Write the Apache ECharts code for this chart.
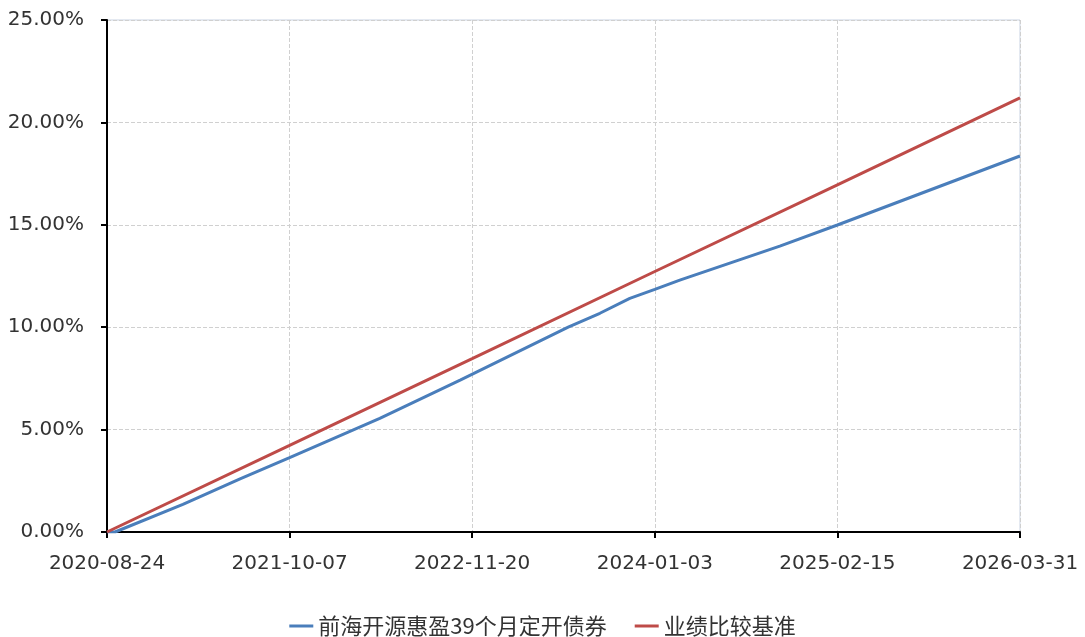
<!DOCTYPE html>
<html><head><meta charset="utf-8">
<script src="https://cdn.jsdelivr.net/npm/echarts@6/dist/echarts.min.js"></script>
<style>html,body{margin:0;padding:0;background:#fff}#c{width:1085px;height:637px}</style>
</head><body><div id="c"></div>
<script>
const startDate = '2020-08-24';
const endDate = '2026-03-31';
const tickLabels = ['2020-08-24','2021-10-07','2022-11-20','2024-01-03','2025-02-15','2026-03-31'];
const seriesNames = ['前海开源惠盈39个月定开债券','业绩比较基准'];
const fundDates = ['2020-08-24','2020-09-11','2021-02-10','2021-06-18','2021-10-07','2022-04-27','2022-10-24','2023-06-23','2023-09-02','2023-11-08','2024-01-03','2024-02-28','2024-10-09','2025-02-15','2026-03-31'];
const fundValues = [0, 0.0, 1.35, 2.59, 3.63, 5.55, 7.42, 10.0, 10.68, 11.41, 11.85, 12.3, 13.96, 14.99, 18.36];
const benchDates = ['2020-08-24','2021-10-07','2022-11-20','2024-01-03','2025-02-15','2026-03-31'];
const benchValues = [0, 4.23, 8.47, 12.72, 16.95, 21.2];

const DAY = 86400000;
const t0 = Date.parse(startDate + 'T00:00:00Z');
const toDay = d => Math.round((Date.parse(d + 'T00:00:00Z') - t0) / DAY);
const toDate = n => new Date(t0 + n * DAY).toISOString().slice(0, 10);
const span = toDay(endDate);
const step = toDay(tickLabels[1]);

const chart = echarts.init(document.getElementById('c'));
const cjk = '"Noto Sans CJK SC", "Noto Sans", sans-serif';
const lat = '"DejaVu Sans", sans-serif';
chart.setOption({
  animation: false,
  textStyle: { fontFamily: cjk },
  grid: { left: 107, right: 65, top: 20, bottom: 105, show: true, borderColor: '#c9d3e3', borderWidth: 1 },
  legend: {
    bottom: 0, left: 'center', itemWidth: 24, itemHeight: 3, itemGap: 28, padding: 0,
    icon: 'rect',
    textStyle: { fontSize: 22, lineHeight: 22, color: '#333', fontFamily: cjk },
    data: seriesNames
  },
  xAxis: {
    type: 'value', min: 0, max: span, interval: step,
    axisLine: { lineStyle: { color: '#000', width: 2 } },
    axisTick: { show: true, length: 6, lineStyle: { color: '#000', width: 2 } },
    axisLabel: { fontSize: 20, color: '#333', margin: 22, fontFamily: lat, formatter: v => toDate(v) },
    splitLine: { show: true, lineStyle: { type: 'dashed', color: '#d0d0d0' } }
  },
  yAxis: {
    type: 'value', min: 0, max: 25, interval: 5,
    axisLine: { show: true, lineStyle: { color: '#000', width: 2 } },
    axisTick: { show: true, length: 6, lineStyle: { color: '#000', width: 2 } },
    axisLabel: { fontSize: 20, color: '#333', margin: 23, fontFamily: lat, formatter: v => v.toFixed(2) + '%' },
    splitLine: { show: true, lineStyle: { type: 'dashed', color: '#d0d0d0' } }
  },
  series: [
    { name: seriesNames[0], type: 'line', showSymbol: false, symbol: 'none',
      lineStyle: { width: 3, color: '#4a7ebb' }, itemStyle: { color: '#4a7ebb' },
      data: fundDates.map((d, i) => [toDay(d), fundValues[i]]) },
    { name: seriesNames[1], type: 'line', showSymbol: false, symbol: 'none',
      lineStyle: { width: 3, color: '#be4b48' }, itemStyle: { color: '#be4b48' },
      data: benchDates.map((d, i) => [toDay(d), benchValues[i]]) }
  ]
});
</script></body></html>
